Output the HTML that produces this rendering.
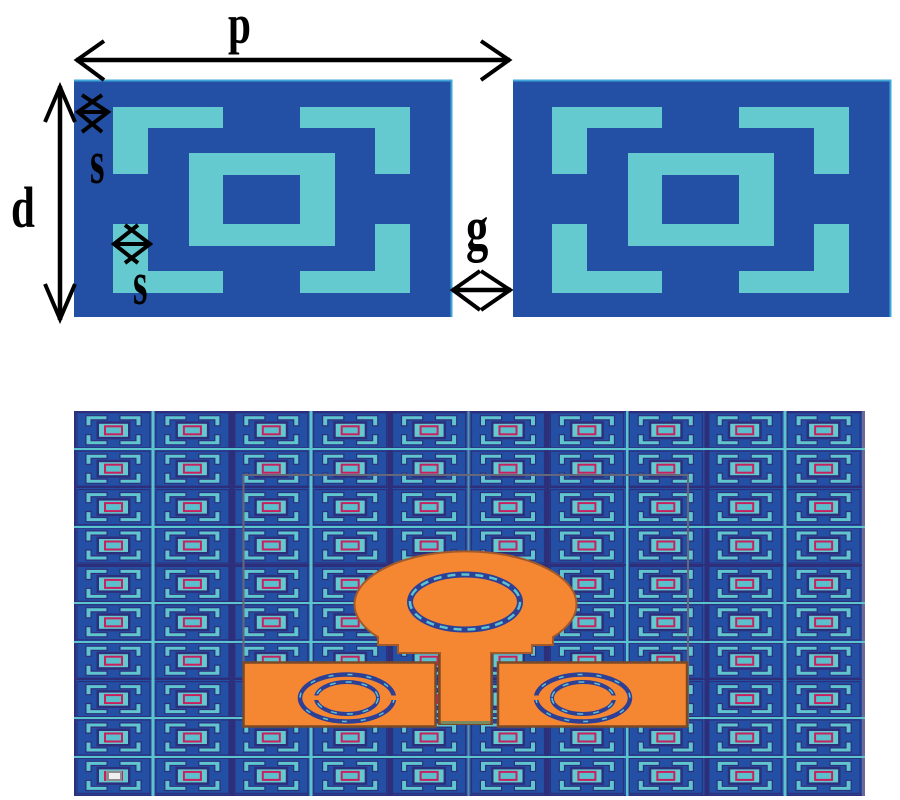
<!DOCTYPE html>
<html>
<head>
<meta charset="utf-8">
<style>
html,body{margin:0;padding:0;background:#fff;width:900px;height:800px;overflow:hidden}
svg{display:block}
text{font-family:"Liberation Serif",serif;font-weight:bold;fill:#000}
</style>
</head>
<body>
<svg width="900" height="800" viewBox="0 0 900 800" xmlns="http://www.w3.org/2000/svg">
<defs>
  <g id="big">
    <rect x="74" y="80" width="377" height="237" fill="#2350a5"/>
    <path d="M74 80.500H451.500V317" fill="none" stroke="#3fa6d8" stroke-width="2"/>
    <g fill="#65c9d0">
      <path d="M113 107H223V128H148V174H113Z"/>
      <path d="M410 107H300V128H375V174H410Z"/>
      <path d="M113 293H223V271H148V224H113Z"/>
      <path d="M410 293H300V271H375V224H410Z"/>
      <path fill-rule="evenodd" d="M189 153H335V246H189ZM223 175V224H300V175Z"/>
    </g>
  </g>
  <path id="br" d="M-27 -14H-7V-11H-23V-5H-27Z"/>
  <path id="brh" d="M-24 -11H-7V-9H-22V-5H-24Z"/>
  <g id="cell">
    <rect x="-36.500" y="-17.500" width="73" height="35" fill="#2350a5" stroke="#2e2f7a" stroke-width="1.200"/>
    <g fill="#2e2f7a" stroke="#2e2f7a" stroke-width="2.400">
      <use href="#br"/>
      <use href="#br" transform="scale(-1,1)"/>
      <use href="#br" transform="scale(1,-1)"/>
      <use href="#br" transform="scale(-1,-1)"/>
    </g>
    <rect x="-17" y="-9" width="34" height="18" fill="#2e2f7a"/>
    <g fill="#5fc6cf">
      <use href="#br"/>
      <use href="#br" transform="scale(-1,1)"/>
      <use href="#br" transform="scale(1,-1)"/>
      <use href="#br" transform="scale(-1,-1)"/>
    </g>
    <rect x="-14.500" y="-6.500" width="29" height="13" fill="#65c9d0"/>
    <rect x="-8.500" y="-4" width="17" height="8" fill="#5cc0cc" stroke="#c8205f" stroke-width="2"/>
  </g>
  <g id="row">
    <use href="#cell" x="113.500"/><use href="#cell" x="192.400"/><use href="#cell" x="271.300"/><use href="#cell" x="350.200"/><use href="#cell" x="429.100"/>
    <use href="#cell" x="508"/><use href="#cell" x="586.900"/><use href="#cell" x="665.800"/><use href="#cell" x="744.700"/><use href="#cell" x="823.600"/>
  </g>
</defs>

<!-- top unit cells -->
<use href="#big"/>
<use href="#big" x="439"/>

<!-- dimension arrows -->
<g fill="none" stroke="#000" stroke-linecap="butt" stroke-linejoin="miter">
  <path d="M76 60H510" stroke-width="4.500"/>
  <path d="M104 41L77 60L104 80M481 41L509 60L481 80" stroke-width="4"/>
  <path d="M60 86V320" stroke-width="4.500"/>
  <path d="M45 122L60 87L75 122M45 284L60 319L75 284" stroke-width="4"/>
  <path d="M77 112H109" stroke-width="4"/>
  <path d="M102 95L78 112L102 132M82 95L108 112L82 132" stroke-width="4"/>
  <path d="M113 244H151" stroke-width="4"/>
  <path d="M138 225L114 244L138 263M125 225L150 244L125 263" stroke-width="4"/>
  <path d="M452 290H511" stroke-width="4.500"/>
  <path d="M480 271L453 290L480 310M481 271L510 290L481 310" stroke-width="4"/>
</g>

<!-- labels -->
<text transform="translate(228 43) scale(.75 1)" font-size="55">p</text>
<text transform="translate(11 227) scale(.74 1)" font-size="58">d</text>
<text transform="translate(90 183) scale(.6 1)" font-size="62">s</text>
<text transform="translate(133 304) scale(.6 1)" font-size="62">s</text>
<text transform="translate(466 249) scale(.72 1)" font-size="62">g</text>

<!-- array background -->
<rect x="74" y="411" width="791" height="385" fill="#2350a5"/>
<use href="#row" y="430.300"/><use href="#row" y="468.700"/><use href="#row" y="507.100"/><use href="#row" y="545.500"/><use href="#row" y="583.900"/>
<use href="#row" y="622.300"/><use href="#row" y="660.700"/><use href="#row" y="699.100"/><use href="#row" y="737.500"/><use href="#row" y="775.900"/>

<!-- dark gaps -->
<g fill="#2e2f7a">
  <rect x="229.500" y="411" width="5" height="385"/>
  <rect x="387.500" y="411" width="5" height="385"/>
  <rect x="544.500" y="411" width="5" height="385"/>
  <rect x="704.500" y="411" width="5" height="385"/>
  <rect x="74" y="486" width="791" height="2"/>
  <rect x="74" y="564" width="791" height="2"/>
  <rect x="74" y="678.500" width="791" height="1.500"/>
  <rect x="74" y="411" width="791" height="1.500"/>
  <rect x="74" y="794.500" width="791" height="1.500"/>
  <rect x="74" y="411" width="2" height="385"/>
</g>
<rect x="862" y="411" width="3" height="385" fill="#6a6a96"/>

<!-- cyan lines -->
<g fill="#5cc4cc">
  <rect x="151.500" y="411" width="3" height="385"/>
  <rect x="309.500" y="411" width="3" height="385"/>
  <rect x="467.500" y="411" width="2" height="385" fill="#5a93a8"/>
  <rect x="626" y="411" width="2.500" height="385"/>
  <rect x="783.500" y="411" width="3" height="385"/>
  <rect x="74" y="448" width="791" height="2"/>
  <rect x="74" y="526" width="791" height="2"/>
  <rect x="74" y="602" width="791" height="2"/>
  <rect x="74" y="641" width="791" height="2"/>
  <rect x="74" y="717" width="791" height="2"/>
  <rect x="74" y="756" width="791" height="2"/>
</g>

<!-- white cell -->
<rect x="106" y="771" width="16" height="10" fill="#8d8d90"/>
<rect x="109" y="773" width="11" height="6" fill="#f0f0f0"/>

<!-- substrate outline -->
<path d="M243.500 726V475H688V726" fill="none" stroke="#67677a" stroke-width="2"/>

<!-- patch -->
<path d="M378 637A111 53 0 1 1 553 637V645H532V653H491V723H440V653H398V645H378Z" fill="#f58733" stroke="#a25a2a" stroke-width="2"/>
<path d="M439 654V724H492V654" fill="none" stroke="#7a4a28" stroke-width="2"/>
<rect x="441" y="721" width="49" height="3" fill="#7a8a60"/>
<rect x="243.500" y="662.500" width="192" height="64" fill="#f58733" stroke="#7a4a28" stroke-width="2.500"/>
<rect x="498" y="662.500" width="189" height="64" fill="#f58733" stroke="#7a4a28" stroke-width="2.500"/>

<!-- main slot ring -->
<ellipse cx="465" cy="602" rx="55" ry="27.500" fill="#f58733" stroke="#2e3f96" stroke-width="6"/>
<ellipse cx="465" cy="602" rx="55" ry="27.500" fill="none" stroke="#5cc4cc" stroke-width="2.500" stroke-dasharray="8 6"/>

<!-- left rings -->
<g id="rings">
  <ellipse cx="347" cy="698" rx="47" ry="23.500" fill="none" stroke="#2e3f96" stroke-width="4.500"/>
  <ellipse cx="347" cy="698" rx="47" ry="23.500" fill="none" stroke="#5cc4cc" stroke-width="1.500" stroke-dasharray="5 14"/>
  <ellipse cx="347" cy="698" rx="31" ry="16" fill="none" stroke="#2e3f96" stroke-width="4"/>
  <ellipse cx="347" cy="698" rx="31" ry="16" fill="none" stroke="#5cc4cc" stroke-width="1.500" stroke-dasharray="6 10"/>
  <rect x="384" y="695.500" width="16" height="4.500" fill="#f58733"/>
  <rect x="311" y="695.500" width="10" height="4.500" fill="#f58733"/>
</g>
<use href="#rings" transform="translate(930 0) scale(-1 1)"/>
</svg>
</body>
</html>
